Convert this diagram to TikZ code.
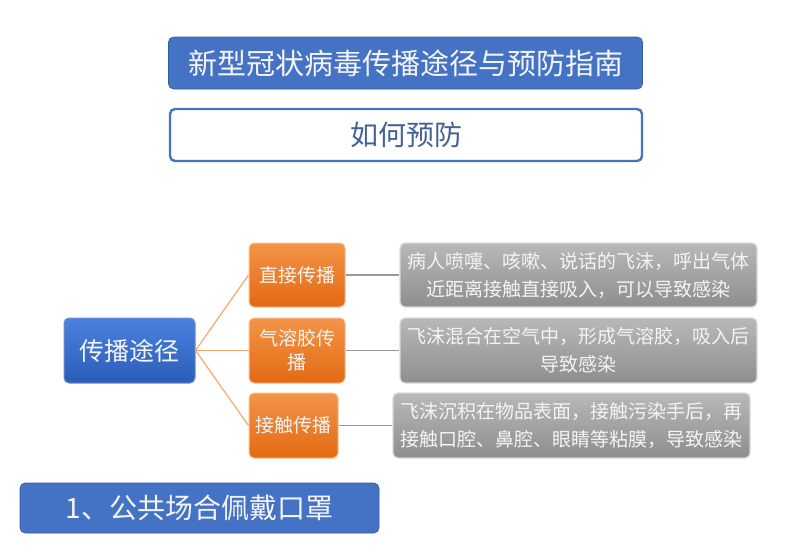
\documentclass[tikz,border=0pt]{standalone}
\usepackage{fontspec}
\setmainfont{Noto Sans CJK SC}
\usetikzlibrary{positioning}
\definecolor{tblue}{HTML}{4472C4}
\definecolor{bluetop}{HTML}{4A82E0}
\definecolor{bluebot}{HTML}{2C5CB8}
\definecolor{orgtop}{HTML}{F39448}
\definecolor{orgbot}{HTML}{E36A12}
\definecolor{graytop}{HTML}{B8B8B8}
\definecolor{graybot}{HTML}{8E8E8E}
\definecolor{txt}{HTML}{F4F4F4}
\tikzset{
  box/.style={rounded corners=5pt, inner sep=0pt, align=center, text=txt},
  titlebox/.style={box, fill=tblue, draw=tblue!80!black, line width=0.6pt},
  subbox/.style={box, fill=white, draw=tblue, line width=2.4pt, text=tblue!70!black!90},
  rootbox/.style={box, top color=bluetop, bottom color=bluebot, draw=bluebot!70!white, line width=1pt},
  orgbox/.style={box, top color=orgtop, bottom color=orgbot, draw=orgtop!60!white, line width=1pt},
  graybox/.style={box, top color=graytop, bottom color=graybot, draw=white!85!black, line width=1.2pt},
  olink/.style={draw=orgtop!80!white, line width=1.2pt},
  glink/.style={draw=gray!80, line width=1.4pt},
}
\begin{document}
\begin{tikzpicture}[x=1pt,y=-1pt]
\useasboundingbox (0,0) rectangle (800,547);
\node[titlebox, minimum width=474pt, minimum height=52pt, font=\fontsize{29}{32}\selectfont] (title) at (405.5,63) {新型冠状病毒传播途径与预防指南};
\node[subbox, minimum width=472pt, minimum height=52pt, font=\fontsize{28}{32}\selectfont] (how) at (406,135) {如何预防};
\node[rootbox, minimum width=131pt, minimum height=65pt, font=\fontsize{25}{30}\selectfont] (root) at (129.5,350.5) {传播途径};
\node[orgbox, minimum width=96pt, minimum height=64pt, font=\fontsize{19}{24}\selectfont] (o1) at (297,275) {直接传播};
\node[orgbox, minimum width=96pt, minimum height=65pt, font=\fontsize{19}{24}\selectfont] (o2) at (297,350.5) {气溶胶传\\播};
\node[orgbox, minimum width=89pt, minimum height=65pt, font=\fontsize{19}{24}\selectfont] (o3) at (293.5,425.5) {接触传播};
\node[graybox, minimum width=357pt, minimum height=64pt, font=\fontsize{19}{28}\selectfont] (g1) at (578.5,275) {病人喷嚏、咳嗽、说话的飞沫，呼出气体\\近距离接触直接吸入，可以导致感染};
\node[graybox, minimum width=357pt, minimum height=65pt, font=\fontsize{19}{28}\selectfont] (g2) at (578.5,350.5) {飞沫混合在空气中，形成气溶胶，吸入后\\导致感染};
\node[graybox, minimum width=357pt, minimum height=65pt, font=\fontsize{19}{28}\selectfont] (g3) at (571.5,425.5) {飞沫沉积在物品表面，接触污染手后，再\\接触口腔、鼻腔、眼睛等粘膜，导致感染};
\node[titlebox, minimum width=359pt, minimum height=50pt, font=\fontsize{28}{32}\selectfont] (mask) at (199.5,508) {1、公共场合佩戴口罩};
\foreach \o in {o1,o2,o3} \draw[olink] (root.east) -- (\o.west);
\draw[glink] (o1.east) -- (g1.west);
\draw[glink] (o2.east) -- (g2.west);
\draw[glink] (o3.east) -- (g3.west);
\end{tikzpicture}
\end{document}
